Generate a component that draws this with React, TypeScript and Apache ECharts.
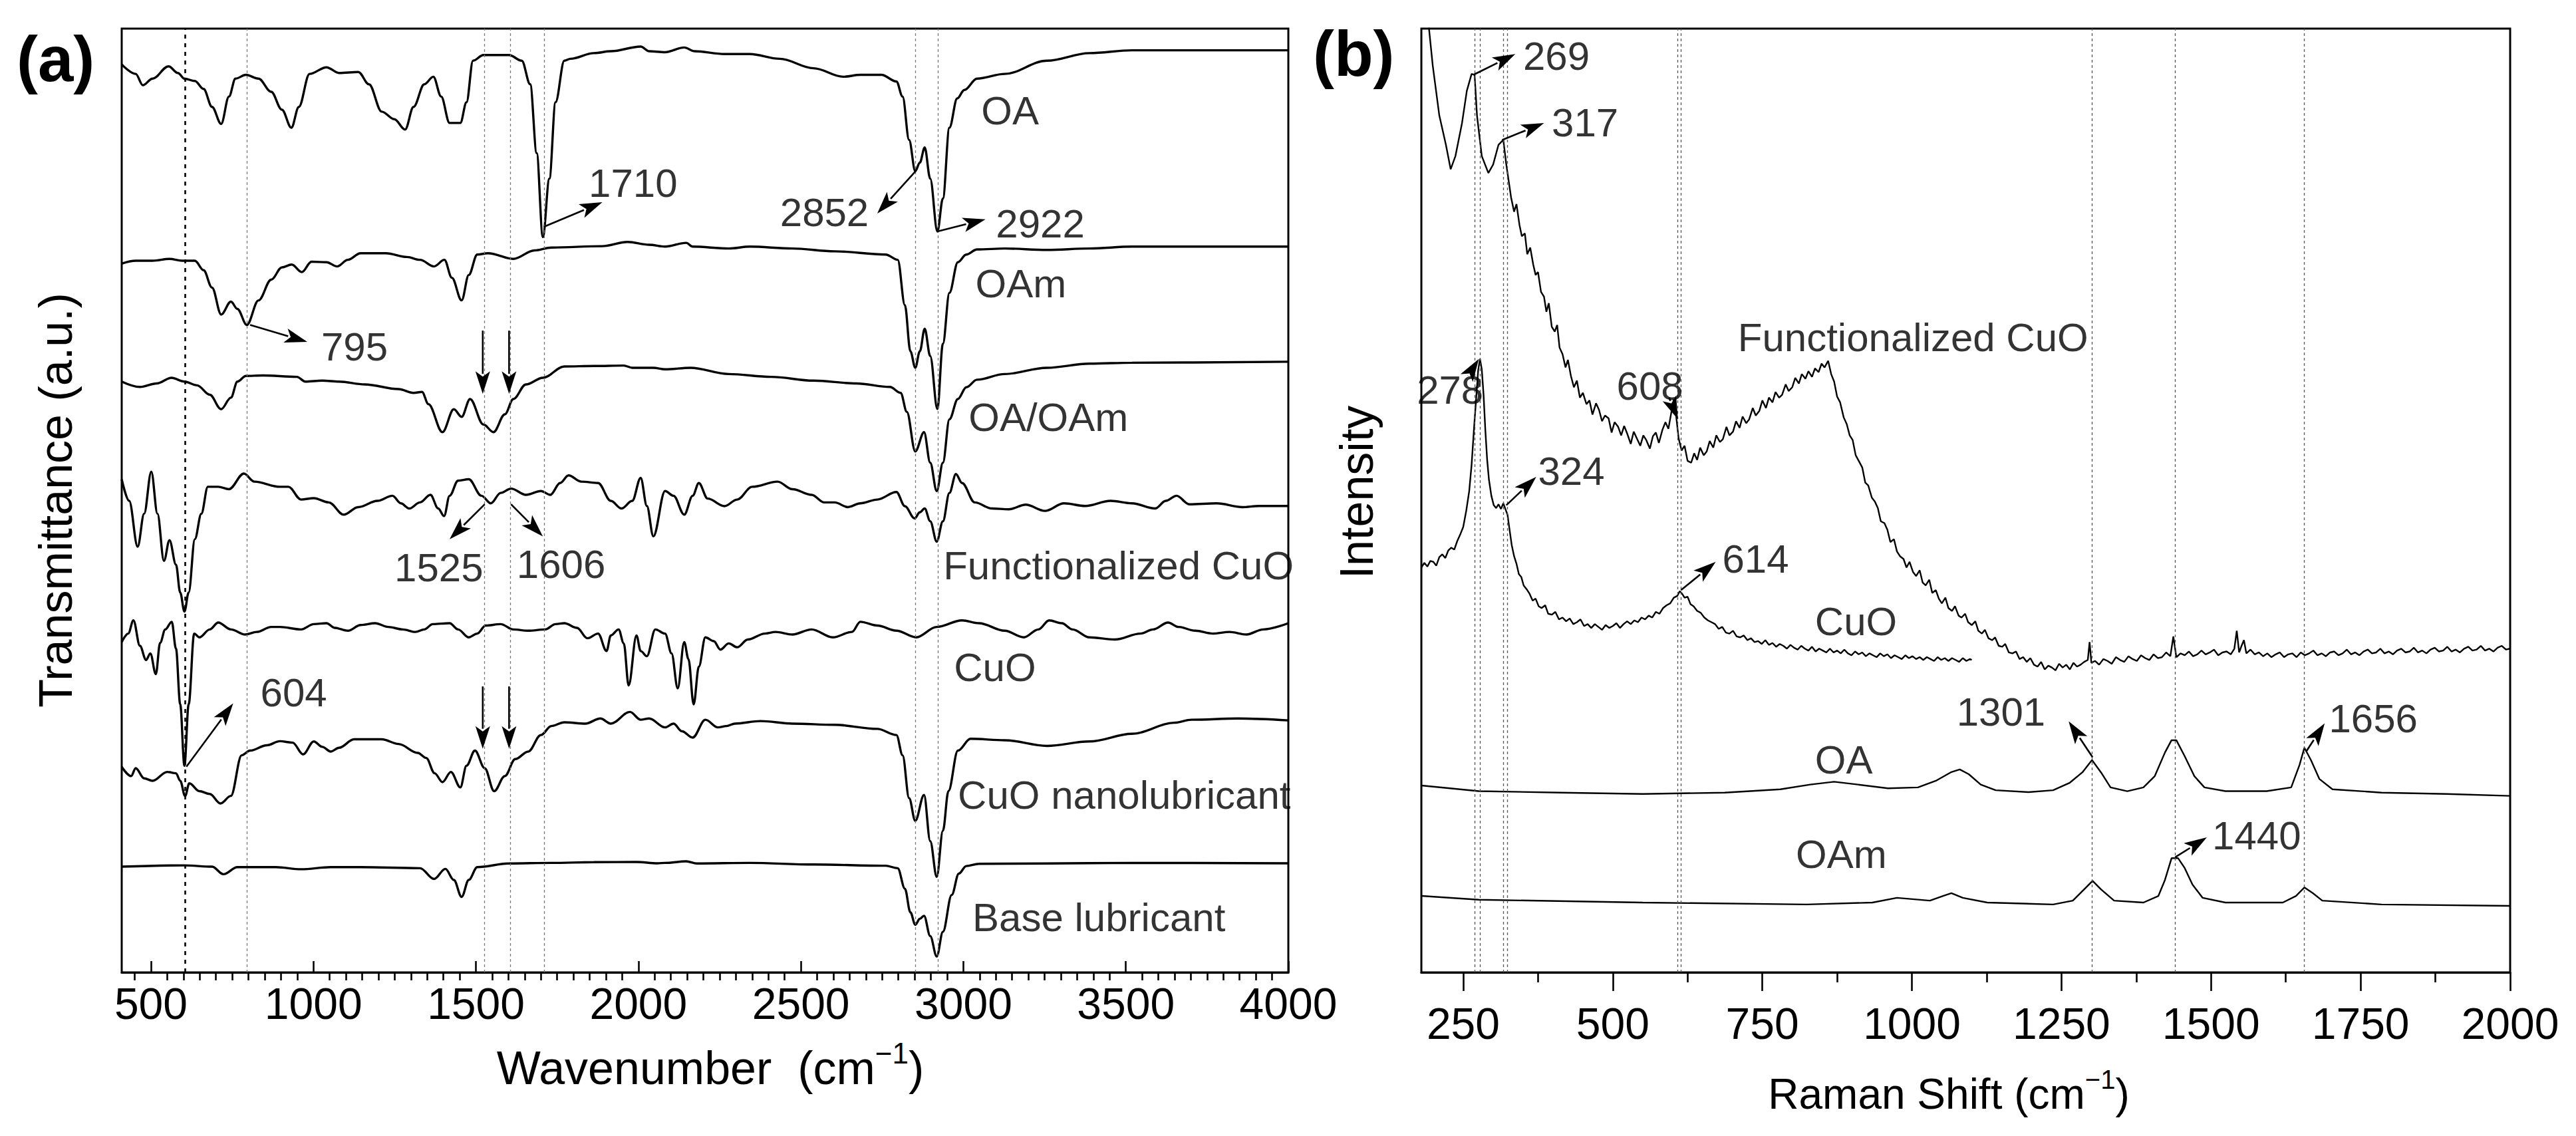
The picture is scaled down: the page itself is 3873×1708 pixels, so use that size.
import React, { useEffect, useRef } from "react";
import * as echarts from "echarts";

type P = [number, number];

// ---------- Panel (a): FTIR (wavenumber, transmittance a.u., stacked) ----------
const ftirTicks = [500, 1000, 1500, 2000, 2500, 3000, 3500, 4000];

const ftirOA: P[] = [[410,96.2],[453,95.2],[475,94.0],[505,94.7],[554,96.0],[583,95.3],[603,94.7],[635,94.45],[662,93.6],[688,91.7],[716,89.9],[740,92.8],[760,94.7],[792,95.1],[831,94.7],[870,93.3],[903,91.4],[932,89.5],[955,91.7],[988,95.2],[1040,95.9],[1079,95.3],[1138,95.4],[1171,94.1],[1210,91.2],[1249,90.4],[1282,89.3],[1308,91.7],[1341,94.1],[1369,94.9],[1393,92.8],[1419,90.0],[1452,90.0],[1471,92.2],[1491,96.6],[1523,97.2],[1602,97.2],[1641,96.6],[1667,94.1],[1687,86.8],[1706,77.9],[1726,84.1],[1745,92.2],[1772,96.6],[1791,96.8],[1863,97.4],[1915,97.6],[2007,98.1],[2033,97.6],[2082,97.5],[2141,98.0],[2173,97.6],[2265,97.3],[2343,97.3],[2435,96.8],[2539,95.8],[2630,94.9],[2683,95.1],[2748,95.1],[2794,94.4],[2813,92.8],[2833,88.2],[2852,84.9],[2866,85.8],[2881,87.4],[2898,84.1],[2920,78.5],[2937,82.0],[2957,89.5],[2981,92.6],[3003,93.5],[3042,94.7],[3127,95.2],[3257,96.6],[3388,97.4],[3519,97.7],[4000,97.7]];

const ftirOAm: P[] = [[410,75.1],[453,75.4],[505,75.4],[557,75.6],[596,75.4],[635,75.4],[662,74.4],[688,72.55],[716,69.7],[746,71.07],[766,70.3],[795,68.6],[831,71.2],[870,73.4],[903,74.7],[933,75.0],[964,74.2],[994,75.3],[1040,75.25],[1073,74.8],[1106,75.5],[1145,76.2],[1223,76.2],[1288,75.8],[1328,75.5],[1371,74.8],[1403,75.5],[1426,73.6],[1456,71.2],[1478,73.9],[1504,76.06],[1537,76.2],[1615,75.6],[1680,76.5],[1732,76.8],[1889,76.95],[1967,77.4],[2033,77.1],[2082,76.9],[2147,77.3],[2167,76.9],[2278,76.7],[2343,76.9],[2474,76.7],[2604,76.4],[2761,76.06],[2798,75.5],[2820,70.7],[2837,65.8],[2852,64.06],[2866,65.8],[2881,68.2],[2898,65.3],[2920,59.7],[2937,66.6],[2957,72.0],[2983,75.25],[3009,76.06],[3042,76.6],[3127,76.7],[3257,76.55],[3388,76.7],[3519,76.9],[4000,76.9]];

const ftirOAOAm: P[] = [[410,62.6],[466,62.03],[518,62.4],[563,63.0],[603,62.6],[642,62.2],[681,61.2],[716,59.67],[746,60.9],[766,62.6],[792,63.2],[844,63.25],[949,63.1],[975,62.6],[1027,62.7],[1079,62.6],[1158,62.3],[1262,61.8],[1308,61.4],[1334,61.5],[1354,60.2],[1397,57.24],[1432,59.67],[1456,58.86],[1482,60.75],[1523,58.05],[1554,57.24],[1589,59.13],[1615,60.75],[1654,62.3],[1706,63.0],[1772,64.2],[1863,64.25],[1955,64.3],[1981,64.06],[2046,64.06],[2082,63.9],[2160,64.06],[2278,63.4],[2409,63.1],[2539,62.7],[2670,62.4],[2774,62.03],[2807,61.4],[2826,59.4],[2852,55.2],[2879,57.24],[2898,54.0],[2918,51.0],[2937,54.0],[2957,58.6],[2983,60.75],[3009,62.0],[3042,62.8],[3127,63.4],[3257,64.06],[3388,64.5],[3519,64.6],[4000,64.7]];

const ftirFuncCuO: P[] = [[410,52.25],[433,49.96],[459,45.1],[479,48.6],[501,53.06],[520,48.6],[540,43.6],[557,45.8],[577,43.2],[590,40.25],[603,38.23],[616,40.25],[635,45.9],[655,48.6],[675,51.45],[707,51.45],[740,51.2],[786,52.85],[818,52.0],[897,51.45],[923,51.45],[962,50.1],[1001,50.25],[1047,49.8],[1093,48.5],[1138,49.3],[1197,49.96],[1243,50.5],[1269,49.7],[1295,49.15],[1328,49.8],[1360,50.6],[1384,49.15],[1402,48.35],[1419,50.5],[1445,52.1],[1478,52.25],[1517,50.5],[1546,49.7],[1576,50.8],[1608,51.26],[1654,50.6],[1700,51.0],[1729,50.6],[1759,51.85],[1785,52.66],[1824,52.0],[1876,51.85],[1915,49.96],[1948,49.15],[1981,49.96],[2007,52.4],[2026,49.42],[2046,46.2],[2082,51.0],[2108,50.5],[2141,48.5],[2167,50.5],[2186,51.85],[2213,50.2],[2265,49.4],[2304,50.1],[2350,51.45],[2428,52.0],[2474,51.2],[2533,50.6],[2572,49.8],[2604,49.8],[2644,49.3],[2683,49.7],[2735,50.1],[2794,50.9],[2820,49.4],[2850,48.1],[2866,48.75],[2881,49.15],[2898,47.8],[2918,45.65],[2937,47.8],[2957,50.8],[2977,52.8],[2996,51.85],[3035,49.8],[3088,49.15],[3140,49.07],[3192,49.56],[3251,48.9],[3310,49.7],[3375,49.42],[3453,49.96],[3519,49.7],[3590,49.15],[3623,49.96],[3656,50.5],[3695,49.6],[3780,49.7],[3858,49.3],[3910,49.42],[4000,49.42]];

const ftirCuO: P[] = [[410,35.0],[430,35.9],[446,37.3],[466,34.6],[485,33.1],[498,33.8],[515,31.6],[528,34.9],[544,36.34],[564,37.15],[577,34.3],[590,28.4],[603,21.9],[616,28.4],[633,35.9],[649,35.5],[681,36.34],[707,37.07],[746,36.34],[790,35.8],[825,36.07],[870,36.6],[897,36.6],[962,36.34],[1001,36.9],[1040,37.0],[1066,36.5],[1106,36.2],[1145,36.8],[1190,37.0],[1230,36.6],[1275,36.34],[1314,36.07],[1341,36.34],[1367,36.9],[1419,37.0],[1445,36.34],[1478,35.5],[1504,35.9],[1530,36.75],[1576,36.9],[1615,36.34],[1661,36.2],[1713,36.34],[1745,36.9],[1772,37.0],[1811,36.5],[1843,35.4],[1876,35.9],[1902,34.05],[1915,35.7],[1939,36.34],[1955,34.86],[1970,30.4],[1994,35.7],[2007,34.05],[2026,33.5],[2052,36.34],[2082,35.9],[2102,33.8],[2121,30.1],[2141,35.0],[2154,33.2],[2170,28.4],[2186,32.4],[2206,35.5],[2232,35.1],[2252,34.2],[2278,34.86],[2304,34.45],[2337,35.27],[2389,35.9],[2422,36.07],[2474,35.8],[2533,36.34],[2598,35.5],[2657,36.07],[2683,37.15],[2735,36.75],[2794,36.2],[2855,35.5],[2918,36.6],[2996,37.3],[3048,37.0],[3127,36.2],[3186,35.5],[3231,36.34],[3264,37.3],[3303,37.0],[3336,36.34],[3388,35.5],[3466,35.27],[3545,35.9],[3584,36.34],[3630,37.07],[3662,36.6],[3714,36.2],[3767,35.9],[3819,36.07],[3871,35.8],[3923,36.34],[4000,37.0]];

const ftirCuONano: P[] = [[410,21.78],[439,20.8],[453,21.64],[479,20.56],[505,20.3],[550,21.24],[577,21.1],[590,20.3],[605,18.68],[618,20.03],[649,19.2],[681,18.9],[714,17.9],[746,18.7],[779,23.0],[805,23.5],[857,24.07],[897,24.5],[936,24.34],[968,23.1],[1001,24.47],[1027,23.9],[1053,23.4],[1079,23.8],[1125,24.7],[1210,24.7],[1262,24.2],[1321,23.26],[1347,22.72],[1373,21.1],[1397,20.16],[1423,21.24],[1452,19.6],[1471,21.9],[1497,23.5],[1527,21.64],[1556,19.2],[1589,20.8],[1621,22.6],[1661,23.4],[1700,25.15],[1732,26.1],[1772,26.5],[1837,26.36],[1883,26.9],[1915,26.36],[1974,27.6],[2007,26.77],[2033,26.9],[2082,25.96],[2108,26.36],[2134,25.55],[2167,24.88],[2206,26.77],[2245,25.96],[2271,26.1],[2297,26.36],[2376,26.63],[2474,26.36],[2604,26.23],[2735,25.8],[2794,25.15],[2813,23.0],[2833,18.46],[2852,16.06],[2879,18.8],[2898,13.9],[2918,10.13],[2937,15.0],[2954,19.2],[2983,23.5],[3022,24.75],[3127,24.6],[3257,24.0],[3388,24.47],[3519,25.28],[3649,26.45],[3702,26.77],[3845,26.9],[4000,26.7]];

const ftirBase: P[] = [[410,11.2],[603,11.34],[688,11.2],[723,10.4],[766,11.15],[884,11.15],[962,10.93],[1053,11.15],[1145,11.15],[1328,11.04],[1371,9.9],[1406,10.97],[1432,9.8],[1456,8.0],[1478,9.8],[1504,11.15],[1602,11.54],[1732,11.6],[1863,11.68],[1994,11.7],[2059,11.56],[2082,11.6],[2147,11.77],[2180,11.54],[2343,11.6],[2539,11.43],[2761,11.3],[2798,11.04],[2820,8.87],[2837,6.36],[2852,5.04],[2866,5.67],[2879,6.0],[2898,3.85],[2918,1.68],[2937,4.3],[2964,8.2],[2986,10.47],[3009,11.27],[3048,11.5],[3257,11.54],[3519,11.6],[4000,11.56]];

const ftirRefLines = [604, 795, 1525, 1606, 1710, 2852, 2922];

const ftirNames = ["OA", "OAm", "OA/OAm", "Functionalized CuO", "CuO", "CuO nanolubricant", "Base lubricant"];
const ftirNameAnchors: P[] = [[3055, 91.3], [3037, 73.0], [3016, 58.8], [2938, 43.1], [2971, 32.3], [2983, 18.8], [3028, 5.8]];

const ftirPeakTexts = ["1710", "2852", "2922", "795", "1525", "1606", "604"];
const ftirPeakAnchors: P[] = [[1847, 83.65], [2709, 80.5], [3100, 79.3], [1024, 66.3], [1386, 42.9], [1762, 43.2], [837, 29.6]];
const ftirPeakAlign = ["left", "right", "left", "left", "center", "center", "left"];
const ftirArrows: number[][] = [
  [1709, 79.0, 1889, 81.6],
  [2853, 84.9, 2735, 80.4],
  [2920, 78.5, 3068, 79.8],
  [805, 68.6, 981, 66.8],
  [1527, 49.6, 1419, 45.9],
  [1608, 49.6, 1706, 46.2],
  [609, 21.8, 753, 28.5],
  [1521, 68.0, 1521, 61.3],
  [1602, 68.0, 1602, 61.3],
  [1521, 30.3, 1521, 23.7],
  [1602, 30.3, 1602, 23.7],
];

// ---------- Panel (b): Raman (shift, intensity a.u., stacked) ----------
const ramanTicks = [250, 500, 750, 1000, 1250, 1500, 1750, 2000];
const ramanMinorTicks = [375, 625, 875, 1125, 1375, 1625, 1875];

const ramanFuncCuO: P[] = [[182,104],[188,103],[199,96.1],[210,90.8],[221,87.7],[229,85.1],[237,86.5],[248,90],[256,93.4],[264,95.2],[269,95.1],[273,90.8],[281,86.5],[292,84.7],[300,85.6],[309,87.7],[317,88.2],[322,85.6],[330,82.1],[335,80.6],[339,81.4],[344,79.2],[348,78.0],[353,78.3],[357,76.1],[362,76.8],[367,75.0],[371,73.9],[375,74.2],[380,72.1],[385,71.6],[389,70.0],[393,70.9],[398,68.4],[403,67.9],[407,68.6],[411,66.2],[416,65.5],[421,64.1],[425,64.9],[430,63.2],[435,62.0],[440,62.7],[445,60.9],[450,61.4],[456,60.2],[461,60.6],[466,59.1],[472,60.3],[477,59.6],[482,58.4],[487,59.0],[493,58.7],[498,57.2],[503,58.3],[509,57.8],[514,56.9],[519,57.9],[524,57.1],[530,56.0],[535,57.3],[540,56.6],[546,55.8],[551,56.9],[556,56.4],[562,55.5],[567,56.8],[572,57.2],[577,56.1],[583,57.5],[588,58.3],[593,57.6],[598,59.4],[602,60.7],[606,58.9],[610,56.6],[615,55.3],[620,55.8],[625,54.2],[631,54.0],[636,55.0],[641,54.3],[646,55.6],[652,54.8],[657,55.2],[662,56.3],[668,55.6],[673,56.9],[679,56.2],[684,56.5],[690,57.8],[695,56.9],[701,57.3],[706,58.4],[712,57.7],[717,58.9],[723,58.2],[728,58.6],[734,59.8],[739,59.0],[745,59.5],[750,60.6],[756,59.8],[761,60.9],[767,60.4],[772,61.5],[778,60.9],[783,61.2],[789,62.3],[794,61.6],[800,62.0],[805,63.0],[811,62.4],[816,63.4],[822,62.9],[827,63.7],[833,63.1],[838,64.0],[844,63.6],[849,64.5],[854,64.1],[860,64.8],[865,63.4],[870,62.6],[875,61.0],[880,60.4],[886,58.8],[891,58.1],[896,56.9],[901,56.4],[906,54.8],[912,54.1],[917,53.5],[922,51.9],[927,51.6],[933,50.3],[938,49.9],[943,49.2],[948,47.8],[954,47.6],[959,46.9],[964,45.6],[970,45.9],[975,44.6],[980,44.1],[986,43.8],[991,42.9],[996,43.5],[1002,42.4],[1007,42.0],[1013,42.6],[1018,41.3],[1023,41.0],[1029,41.6],[1034,40.2],[1040,40.5],[1045,39.6],[1050,39.1],[1056,39.7],[1061,38.6],[1067,38.3],[1072,38.8],[1078,37.8],[1083,37.6],[1089,38.0],[1094,37.1],[1100,36.8],[1106,37.2],[1111,36.2],[1117,35.9],[1122,36.3],[1128,35.4],[1134,35.2],[1139,35.5],[1145,34.6],[1151,34.5],[1156,34.8],[1162,33.9],[1168,33.8],[1174,34.0],[1180,33.2],[1186,33.4],[1192,32.9],[1198,33.3],[1204,32.6],[1210,32.4],[1216,32.9],[1222,32.1],[1228,32.5],[1234,32.3],[1240,32.0],[1246,32.7],[1252,32.3],[1258,32.6],[1264,32.1],[1270,32.8],[1276,32.4],[1282,32.6],[1288,32.9],[1294,33.1],[1297,35.0],[1300,32.8],[1306,33.0],[1313,32.6],[1320,33.2],[1327,33.0],[1334,32.7],[1341,33.4],[1348,33.1],[1355,32.9],[1362,33.5],[1369,33.2],[1376,33.0],[1383,33.6],[1390,33.3],[1397,33.1],[1404,33.7],[1411,33.3],[1418,33.4],[1425,33.9],[1432,33.5],[1437,35.6],[1442,33.4],[1449,33.8],[1456,33.6],[1463,34.0],[1470,33.5],[1477,33.7],[1484,34.1],[1491,33.7],[1498,33.9],[1505,34.2],[1512,33.6],[1519,33.9],[1526,34.0],[1533,33.7],[1539,34.3],[1543,36.2],[1547,33.9],[1551,34.6],[1555,35.2],[1559,33.8],[1566,34.2],[1573,33.7],[1580,33.9],[1587,33.5],[1594,33.8],[1601,33.4],[1608,33.7],[1615,33.9],[1622,33.4],[1629,33.7],[1636,33.8],[1643,33.4],[1650,33.9],[1657,33.6],[1664,33.8],[1671,34.1],[1678,33.6],[1685,33.8],[1692,33.5],[1699,33.9],[1706,34.0],[1713,33.6],[1720,33.8],[1727,34.2],[1734,33.7],[1741,33.9],[1748,33.6],[1755,34.0],[1762,34.2],[1769,33.8],[1776,33.9],[1783,34.3],[1790,33.8],[1797,34.0],[1804,33.7],[1811,34.1],[1818,34.3],[1825,33.9],[1832,34.0],[1839,34.4],[1846,33.9],[1853,34.1],[1860,33.8],[1867,34.2],[1874,34.4],[1881,34.0],[1888,34.1],[1895,34.5],[1902,34.0],[1909,34.2],[1916,33.9],[1923,34.3],[1930,34.5],[1937,34.1],[1944,34.2],[1951,34.6],[1958,34.1],[1965,34.3],[1972,34.0],[1979,34.4],[1986,34.6],[1993,34.2],[2000,34.3]];

const ramanCuO: P[] = [[180,42.9],[185,43.4],[190,43.0],[195,43.6],[200,43.5],[205,43.1],[210,44.0],[215,44.3],[220,43.9],[225,44.7],[230,45.0],[235,44.8],[240,45.7],[245,46.4],[250,47.2],[255,48.9],[260,51.0],[264,53.8],[268,57.6],[272,61.2],[275,63.8],[278,65.0],[281,63.9],[284,61.2],[287,57.4],[290,54.3],[293,52.2],[297,50.5],[301,49.5],[305,49.2],[309,49.6],[313,49.1],[317,49.7],[321,49.0],[324,48.5],[327,47.1],[331,45.3],[335,44.1],[339,43.3],[343,42.2],[347,41.9],[351,41.0],[356,40.6],[361,40.1],[366,39.4],[371,39.6],[376,38.8],[381,38.6],[387,38.9],[392,38.0],[398,37.9],[404,38.2],[410,37.4],[416,37.6],[422,37.2],[428,37.5],[434,36.9],[440,37.1],[446,37.4],[452,36.7],[458,36.9],[464,36.5],[470,36.9],[476,36.6],[482,36.3],[488,36.8],[494,36.5],[500,36.7],[506,37.0],[512,36.5],[518,36.9],[524,37.2],[530,36.9],[536,37.3],[542,37.1],[548,37.6],[554,37.4],[560,37.8],[566,37.6],[572,38.2],[578,38.0],[584,38.6],[590,38.9],[596,39.1],[602,39.7],[608,39.9],[612,40.4],[616,40.1],[620,39.7],[625,39.8],[630,39.0],[635,38.8],[641,38.3],[647,38.1],[653,37.6],[659,37.3],[665,37.1],[671,36.9],[677,36.4],[683,36.6],[689,36.0],[695,35.9],[701,36.2],[707,35.6],[713,35.5],[719,35.7],[725,35.2],[731,35.4],[737,35.0],[743,35.1],[749,34.8],[755,35.2],[761,34.7],[767,34.9],[773,34.5],[779,34.8],[785,34.6],[791,34.3],[797,34.7],[803,34.4],[809,34.2],[815,34.6],[821,34.3],[827,34.1],[833,34.5],[839,34.0],[845,34.3],[851,34.1],[857,33.9],[863,34.3],[869,33.9],[875,34.1],[881,33.8],[887,34.2],[893,33.8],[899,33.6],[905,34.0],[911,33.7],[917,33.9],[923,33.5],[929,33.8],[935,33.6],[941,33.4],[947,33.8],[953,33.5],[959,33.7],[965,33.3],[971,33.6],[977,33.4],[983,33.2],[989,33.6],[995,33.3],[1001,33.5],[1007,33.2],[1013,33.4],[1019,33.1],[1025,33.4],[1031,33.2],[1037,33.0],[1043,33.4],[1049,33.1],[1055,33.3],[1061,33.0],[1067,33.3],[1073,33.1],[1079,32.9],[1085,33.3],[1091,33.0],[1097,33.2],[1100,33.1]];

const ramanOA: P[] = [[180,19.8],[276,19.2],[413,19.05],[550,18.9],[687,19.05],[780,19.4],[830,19.9],[870,20.2],[910,19.9],[960,19.5],[1010,19.6],[1040,20.3],[1065,21.2],[1080,21.5],[1095,21.0],[1115,19.9],[1140,19.3],[1195,19.1],[1236,19.3],[1264,20.1],[1285,21.2],[1301,22.5],[1316,21.2],[1332,19.6],[1360,19.2],[1387,19.6],[1406,20.8],[1423,23.3],[1434,24.6],[1442,24.6],[1456,22.9],[1472,20.8],[1489,19.6],[1524,19.2],[1593,19.2],[1634,19.6],[1648,22.0],[1656,23.8],[1667,22.5],[1681,20.5],[1703,19.4],[1785,19.05],[1894,18.9],[2000,18.7]];

const ramanOAm: P[] = [[180,8.1],[276,7.7],[550,7.4],[824,7.2],[934,7.4],[975,7.9],[1030,7.6],[1052,8.1],[1066,8.4],[1085,7.9],[1126,7.4],[1236,7.2],[1269,7.6],[1291,9.0],[1302,9.7],[1316,8.8],[1338,7.6],[1387,7.4],[1412,8.1],[1423,9.8],[1434,12.1],[1445,12.1],[1456,11.05],[1469,9.3],[1486,7.9],[1524,7.4],[1620,7.4],[1642,8.1],[1656,9.0],[1670,8.4],[1686,7.6],[1785,7.2],[2000,7.05]];

const ramanRefLines = [269, 278, 317, 324, 608, 614, 1301, 1440, 1656];

const ramanNames = ["Functionalized CuO", "CuO", "OA", "OAm"];
const ramanNameAnchors: P[] = [[709, 67.3], [838, 37.2], [838, 22.5], [806, 12.5]];

const ramanPeakTexts = ["269", "317", "278", "324", "608", "614", "1301", "1656", "1440"];
const ramanPeakAnchors: P[] = [[350, 97.1], [398, 90.0], [228, 61.7], [375, 53.1], [562, 62.1], [683, 43.8], [1223, 27.6], [1697, 26.9], [1502, 14.5]];
const ramanPeakAlign = ["left", "left", "center", "left", "center", "left", "right", "left", "left"];
const ramanArrows: number[][] = [
  [267, 95.1, 337, 97.3],
  [315, 88.2, 385, 90.0],
  [258, 63.2, 276, 65.0],
  [322, 49.5, 372, 52.5],
  [594, 60.9, 609, 58.6],
  [614, 40.5, 672, 43.5],
  [1302, 22.8, 1262, 26.6],
  [1659, 23.4, 1690, 26.4],
  [1440, 12.2, 1493, 14.3],
];

const FONT = '"Liberation Sans", Arial, Helvetica, sans-serif';

function arrowRender(_params: any, api: any) {
  const p1 = api.coord([api.value(0), api.value(1)]);
  const p2 = api.coord([api.value(2), api.value(3)]);
  const dx = p2[0] - p1[0];
  const dy = p2[1] - p1[1];
  const len = Math.hypot(dx, dy) || 1;
  const ux = dx / len;
  const uy = dy / len;
  const headLen = 34;
  const headW = 11;
  const bx = p2[0] - ux * headLen;
  const by = p2[1] - uy * headLen;
  const nx = -uy;
  const ny = ux;
  return {
    type: "group",
    children: [
      { type: "line", shape: { x1: p1[0], y1: p1[1], x2: bx + ux * 4, y2: by + uy * 4 }, style: { stroke: "#000", lineWidth: 2.6 } },
      {
        type: "polygon",
        shape: { points: [[p2[0], p2[1]], [bx + nx * headW, by + ny * headW], [bx + ux * 8, by + uy * 8], [bx - nx * headW, by - ny * headW]] },
        style: { fill: "#000" },
      },
    ],
  };
}

function textSeries(names: string[], anchors: P[], aligns: string[] | null, xi: number, yi: number, size: number) {
  return {
    type: "scatter",
    xAxisIndex: xi,
    yAxisIndex: yi,
    symbolSize: 0,
    silent: true,
    z: 10,
    data: names.map((n, i) => ({
      value: anchors[i],
      name: n,
      label: {
        show: true,
        position: "inside",
        formatter: n,
        align: aligns ? aligns[i] : "left",
        verticalAlign: "middle",
        fontSize: size,
        fontFamily: FONT,
        color: "#000",
      },
    })),
  };
}

function lineSeries(data: P[], xi: number, yi: number, width: number, smooth: number | boolean) {
  return {
    type: "line",
    xAxisIndex: xi,
    yAxisIndex: yi,
    data,
    symbol: "none",
    showSymbol: false,
    smooth,
    smoothMonotone: "x",
    silent: true,
    clip: true,
    lineStyle: { color: "#000", width },
  };
}

const plainNumber = (v: number) => String(v);

export default function App() {
  const ref = useRef<HTMLDivElement>(null);
  useEffect(() => {
    if (!ref.current) return;
    const chart = echarts.init(ref.current, undefined, { renderer: "svg" });

    const ftirMinor: number[] = [];
    for (let v = 450; v < 4000; v += 50) if (v % 500 !== 0) ftirMinor.push(v);

    const refLineStyle = (v: number) =>
      v === 604
        ? { xAxis: v, lineStyle: { color: "#000", type: [6, 7], width: 2.6 } }
        : { xAxis: v, lineStyle: { color: "#777", type: [4, 4], width: 1.3 } };

    const ftirSeries: any[] = [ftirOA, ftirOAm, ftirOAOAm, ftirFuncCuO, ftirCuO, ftirCuONano, ftirBase].map((d) =>
      lineSeries(d, 0, 0, 3.4, 0.35)
    );
    ftirSeries[0].markLine = {
      silent: true,
      symbol: ["none", "none"],
      label: { show: false },
      animation: false,
      data: ftirRefLines.map(refLineStyle),
    };

    const ramanSeries: any[] = [ramanFuncCuO, ramanCuO, ramanOA, ramanOAm].map((d) => lineSeries(d, 2, 1, 2.4, false));
    ramanSeries[0].markLine = {
      silent: true,
      symbol: ["none", "none"],
      label: { show: false },
      animation: false,
      data: ramanRefLines.map((v) => ({ xAxis: v, lineStyle: { color: "#555", type: [4, 4], width: 1.3 } })),
    };

    const baseAxis = {
      type: "value",
      splitLine: { show: false },
      axisPointer: { show: false },
    };

    const option: any = {
      animation: false,
      backgroundColor: "#fff",
      grid: [
        { left: 183, top: 43, width: 1754, height: 1419, show: true, borderColor: "#000", borderWidth: 3, backgroundColor: "transparent" },
        { left: 2137, top: 43, width: 1637, height: 1419, show: true, borderColor: "#000", borderWidth: 3, backgroundColor: "transparent" },
      ],
      xAxis: [
        {
          ...baseAxis,
          gridIndex: 0,
          min: 410,
          max: 4000,
          position: "bottom",
          axisLine: { show: true, lineStyle: { color: "#000", width: 3 } },
          axisTick: { show: true, inside: true, length: 17, customValues: ftirTicks, lineStyle: { color: "#000", width: 2.6 } },
          axisLabel: { show: true, customValues: ftirTicks, formatter: plainNumber, margin: 14, fontSize: 66, fontFamily: FONT, color: "#000", showMinLabel: true, showMaxLabel: true },
        },
        {
          ...baseAxis,
          gridIndex: 0,
          min: 410,
          max: 4000,
          position: "bottom",
          offset: 0,
          axisLine: { show: false },
          axisTick: { show: true, inside: false, length: 12, customValues: ftirMinor, lineStyle: { color: "#000", width: 2.6 } },
          axisLabel: { show: false },
        },
        {
          ...baseAxis,
          gridIndex: 1,
          min: 180,
          max: 2000,
          position: "bottom",
          axisLine: { show: true, lineStyle: { color: "#000", width: 3 } },
          axisTick: { show: true, inside: false, length: 28, customValues: ramanTicks, lineStyle: { color: "#000", width: 2.6 } },
          axisLabel: { show: true, customValues: ramanTicks, formatter: plainNumber, margin: 44, fontSize: 66, fontFamily: FONT, color: "#000", showMinLabel: true, showMaxLabel: true },
        },
        {
          ...baseAxis,
          gridIndex: 1,
          min: 180,
          max: 2000,
          position: "bottom",
          offset: 0,
          axisLine: { show: false },
          axisTick: { show: true, inside: false, length: 15, customValues: ramanMinorTicks, lineStyle: { color: "#000", width: 2.6 } },
          axisLabel: { show: false },
        },
      ],
      yAxis: [
        { type: "value", gridIndex: 0, min: 0, max: 100, show: false },
        { type: "value", gridIndex: 1, min: 0, max: 100, show: false },
      ],
      series: [
        ...ftirSeries,
        ...ramanSeries,
        { type: "custom", xAxisIndex: 0, yAxisIndex: 0, renderItem: arrowRender, data: ftirArrows, encode: { x: [0, 2], y: [1, 3] }, silent: true, z: 5 },
        { type: "custom", xAxisIndex: 2, yAxisIndex: 1, renderItem: arrowRender, data: ramanArrows, encode: { x: [0, 2], y: [1, 3] }, silent: true, z: 5 },
        textSeries(ftirNames, ftirNameAnchors, null, 0, 0, 60),
        textSeries(ftirPeakTexts, ftirPeakAnchors, ftirPeakAlign, 0, 0, 60),
        textSeries(ramanNames, ramanNameAnchors, null, 2, 1, 60),
        textSeries(ramanPeakTexts, ramanPeakAnchors, ramanPeakAlign, 2, 1, 60),
      ],
      graphic: [
        { type: "text", x: 25, y: 88, style: { text: "(a)", font: `bold 96px ${FONT}`, fill: "#000", textAlign: "left", textVerticalAlign: "middle" } },
        { type: "text", x: 1974, y: 80, style: { text: "(b)", font: `bold 96px ${FONT}`, fill: "#000", textAlign: "left", textVerticalAlign: "middle" } },
        {
          type: "text",
          x: 84,
          y: 752,
          rotation: Math.PI / 2,
          style: { text: "Transmittance (a.u.)", font: `70px ${FONT}`, fill: "#000", textAlign: "center", textVerticalAlign: "middle" },
        },
        {
          type: "text",
          x: 2040,
          y: 740,
          rotation: Math.PI / 2,
          style: { text: "Intensity", font: `70px ${FONT}`, fill: "#000", textAlign: "center", textVerticalAlign: "middle" },
        },
        {
          type: "text",
          x: 1068,
          y: 1606,
          style: {
            text: "{a|Wavenumber  (cm}{s|−1}{a|)}",
            textAlign: "center",
            textVerticalAlign: "middle",
            rich: {
              a: { fontSize: 70, fontFamily: FONT, fill: "#000", color: "#000", lineHeight: 90 },
              s: { fontSize: 44, fontFamily: FONT, fill: "#000", color: "#000", lineHeight: 44, verticalAlign: "top" },
            },
          },
        },
        {
          type: "text",
          x: 2930,
          y: 1645,
          style: {
            text: "{a|Raman Shift (cm}{s|−1}{a|)}",
            textAlign: "center",
            textVerticalAlign: "middle",
            rich: {
              a: { fontSize: 64, fontFamily: FONT, fill: "#000", color: "#000", lineHeight: 84 },
              s: { fontSize: 40, fontFamily: FONT, fill: "#000", color: "#000", lineHeight: 40, verticalAlign: "top" },
            },
          },
        },
      ],
    };

    chart.setOption(option);
    return () => chart.dispose();
  }, []);

  return <div ref={ref} style={{ position: "absolute", left: 0, top: 0, width: 3873, height: 1708, background: "#fff" }} />;
}
